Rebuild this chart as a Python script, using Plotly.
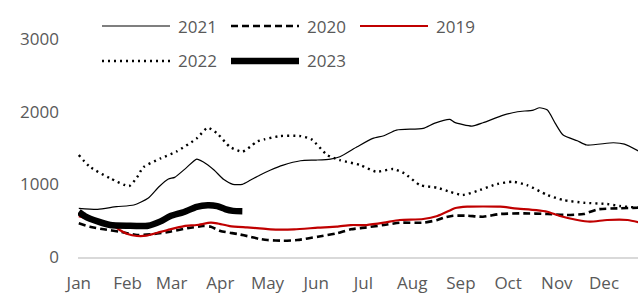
import plotly.graph_objects as go

# ---------------- data (day of year, value) ----------------
MONTH_START_DAYS = [0, 31, 59, 90, 120, 151, 181, 212, 243, 273, 304, 334]
MONTH_LABELS = ["Jan", "Feb", "Mar", "Apr", "May", "Jun",
                "Jul", "Aug", "Sep", "Oct", "Nov", "Dec"]
Y_TICKS = [0, 1000, 2000, 3000]

days_2021 = [0, 12, 24, 35, 44, 51, 57, 61, 68, 75, 79, 86, 92, 98, 104, 109, 115,
             122, 130, 141, 151, 160, 166, 177, 187, 194, 202, 219, 226, 236, 239,
             250, 257, 270, 279, 289, 293, 298, 303, 308, 317, 323, 340, 347, 356]
vals_2021 = [670, 656, 692, 715, 807, 967, 1073, 1096, 1220, 1348, 1311, 1197, 1069,
             1000, 1000, 1055, 1125, 1197, 1265, 1325, 1334, 1348, 1380, 1517, 1632,
             1669, 1747, 1770, 1839, 1894, 1853, 1802, 1847, 1953, 1999, 2022, 2054,
             2022, 1839, 1678, 1600, 1541, 1572, 1554, 1458]

days_2020 = [0, 7, 16, 26, 37, 48, 58, 69, 79, 84, 90, 101, 109, 115, 120, 130, 139,
             152, 164, 173, 183, 194, 204, 219, 228, 232, 238, 247, 257, 268, 283,
             298, 310, 321, 330, 344, 356]
vals_2020 = [463, 417, 381, 348, 303, 316, 348, 395, 426, 417, 358, 316, 279, 248,
             234, 224, 234, 279, 326, 381, 408, 440, 472, 472, 509, 541, 568, 568,
             554, 592, 601, 592, 578, 592, 656, 670, 678]

days_2019 = [0, 12, 22, 26, 31, 37, 43, 50, 58, 67, 75, 84, 88, 96, 107, 115, 122,
             137, 152, 164, 173, 183, 194, 204, 219, 228, 236, 239, 247, 268, 277,
             291, 298, 306, 317, 325, 336, 349, 356]
vals_2019 = [560, 490, 430, 371, 316, 289, 293, 334, 381, 426, 440, 472, 463, 426,
             408, 395, 381, 381, 403, 417, 440, 440, 472, 509, 523, 564, 640, 670,
             692, 692, 670, 646, 623, 564, 509, 486, 509, 509, 477]

days_2022 = [0, 7, 20, 32, 37, 41, 52, 62, 75, 82, 88, 96, 104, 109, 113, 118, 128,
             141, 148, 158, 166, 179, 189, 200, 207, 217, 228, 236, 244, 255, 266,
             276, 285, 298, 308, 321, 336, 344, 356]
vals_2022 = [1403, 1242, 1082, 977, 1096, 1234, 1357, 1449, 1632, 1779, 1701, 1517,
             1449, 1517, 1586, 1619, 1664, 1664, 1619, 1403, 1334, 1265, 1174, 1210,
             1151, 990, 953, 898, 853, 921, 1004, 1036, 990, 853, 784, 747, 729,
             701, 678]

days_2023 = [0, 4, 12, 20, 31, 44, 52, 58, 67, 75, 82, 88, 93, 98, 104]
vals_2023 = [620, 560, 490, 440, 430, 430, 490, 560, 620, 690, 712, 700, 660, 635, 630]

# ---------------- styles ----------------
FONT = "Open Sans"
TXT = "#595959"
series = [
    dict(name="2021", x=days_2021, y=vals_2021, color="black", width=1.2, dash="solid"),
    dict(name="2020", x=days_2020, y=vals_2020, color="black", width=2.6, dash="7px,4px"),
    dict(name="2019", x=days_2019, y=vals_2019, color="#c00000", width=2.2, dash="solid"),
    dict(name="2022", x=days_2022, y=vals_2022, color="black", width=2.4, dash="2px,4px"),
    dict(name="2023", x=days_2023, y=vals_2023, color="black", width=6.5, dash="solid"),
]

W, H = 638, 295
L, T, B, R = 78, 39, 38, 0
PW, PH = W - L - R, H - T - B

fig = go.Figure()
for s in series:
    fig.add_trace(go.Scatter(
        x=s["x"], y=s["y"], mode="lines", name=s["name"], showlegend=False,
        line=dict(color=s["color"], width=s["width"], dash=s["dash"],
                  shape="spline", smoothing=0.6),
    ))

# manual legend (two rows, three columns) to match the long legend keys
def px_x(p):
    return (p - L) / PW

def px_y(p):
    return (H - B - p) / PH

legend_slots = {"2021": (102, 26), "2020": (231, 26), "2019": (360, 26),
                "2022": (102, 61), "2023": (231, 61)}
KEY_LEN = 68
for s in series:
    lx, ly = legend_slots[s["name"]]
    fig.add_shape(type="line", xref="paper", yref="paper",
                  x0=px_x(lx), x1=px_x(lx + KEY_LEN), y0=px_y(ly), y1=px_y(ly),
                  line=dict(color=s["color"], width=s["width"], dash=s["dash"]))
    fig.add_annotation(xref="paper", yref="paper", x=px_x(lx + KEY_LEN + 6),
                       y=px_y(ly), text=s["name"], showarrow=False,
                       xanchor="left", yanchor="middle",
                       font=dict(family=FONT, size=17, color=TXT))

fig.update_layout(
    width=W, height=H,
    margin=dict(l=L, r=R, t=T, b=B, pad=0),
    paper_bgcolor="white", plot_bgcolor="white",
    font=dict(family=FONT, size=17, color=TXT),
    showlegend=False,
)
fig.update_xaxes(
    range=[-0.5, 355.6], tickvals=MONTH_START_DAYS, ticktext=MONTH_LABELS,
    showgrid=False, zeroline=False, showline=True, linecolor="#d9d9d9", linewidth=2,
    ticks="", ticklabelstandoff=10, automargin=False,
    tickfont=dict(family=FONT, size=17, color=TXT),
)
fig.update_yaxes(
    range=[0, 3000], tickvals=Y_TICKS, showgrid=False, zeroline=False, showline=False,
    ticks="", ticklabelstandoff=18, automargin=False,
    tickfont=dict(family=FONT, size=17, color=TXT),
)

fig.write_html(
    "out.html",
    config={"displayModeBar": False},
    post_script=("document.body.style.margin='0';"
                 "document.body.style.overflow='hidden';"
                 "document.documentElement.style.overflow='hidden';"),
)
